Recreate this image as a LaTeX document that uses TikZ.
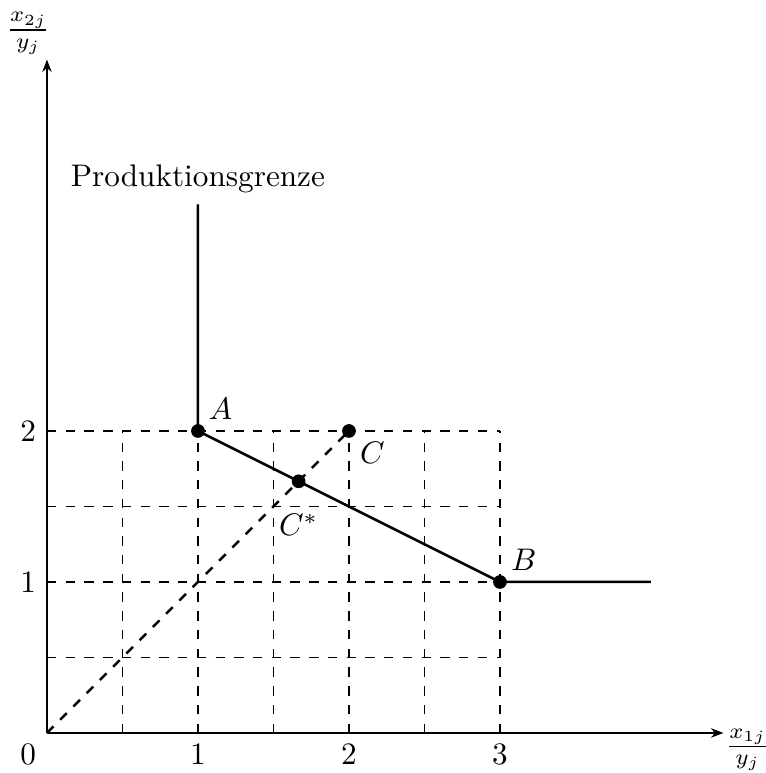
\documentclass[tikz,border=0pt]{standalone}
\usepackage{amsmath}
\usetikzlibrary{arrows.meta, calc}

\begin{document}
\begin{tikzpicture}[x=1.7cm, y=1.7cm]

    \useasboundingbox (-0.311,-0.265) rectangle (4.755,4.854);

    % Points of the production frontier
    \coordinate (O) at (0,0);
    \coordinate (Top) at (1,3.5);
    \coordinate (A) at (1,2);
    \coordinate (B) at (3,1);
    \coordinate (End) at (4,1);
    \coordinate (C) at (2,2);
    \coordinate (Cs) at (5/3,5/3);
    \coordinate (Xend) at (4.48,0);
    \coordinate (Yend) at (0,4.46);

    % Dashed helper grid
    \foreach \x in {0.5, 1, 1.5, 2, 2.5, 3} {
        \draw[dashed] (\x,0) -- (\x,2);
    }
    \foreach \y in {0.5, 1, 1.5, 2} {
        \draw[dashed] (0,\y) -- (3,\y);
    }

    % Axes with ticks
    \draw[thick, -{Stealth[length=4pt, width=3pt]}] (O) -- (Xend);
    \draw[thick, -{Stealth[length=4pt, width=3pt]}] (O) -- (Yend);
    \node (xlab) at ($(Xend)+(7.7pt,-5.4pt)$) {$\frac{x_{1j}}{y_j}$};
    \node (ylab) at ($(Yend)+(-6pt,8.3pt)$) {$\frac{x_{2j}}{y_j}$};
    \node[below left] at (O) {$0$};
    \foreach \x in {1, 2, 3} {
        \node[below] at (\x,0) {$\x$};
    }
    \foreach \y in {1, 2} {
        \node[left] at (0,\y) {$\y$};
    }

    % Ray through C
    \draw[thick, dashed] (O) -- (C);

    % Production frontier
    \draw[thick] (Top) node[above] {Produktionsgrenze} -- (A) -- (B) -- (End);

    % Marked points
    \fill (A) circle (2.2pt) node[above right] {$A$};
    \fill (B) circle (2.2pt) node[above right] {$B$};
    \fill (C) circle (2.2pt) node[below right] {$C$};
    \fill (Cs) circle (2.2pt) node[below=7pt] {$C^*$};

\end{tikzpicture}
\end{document}
